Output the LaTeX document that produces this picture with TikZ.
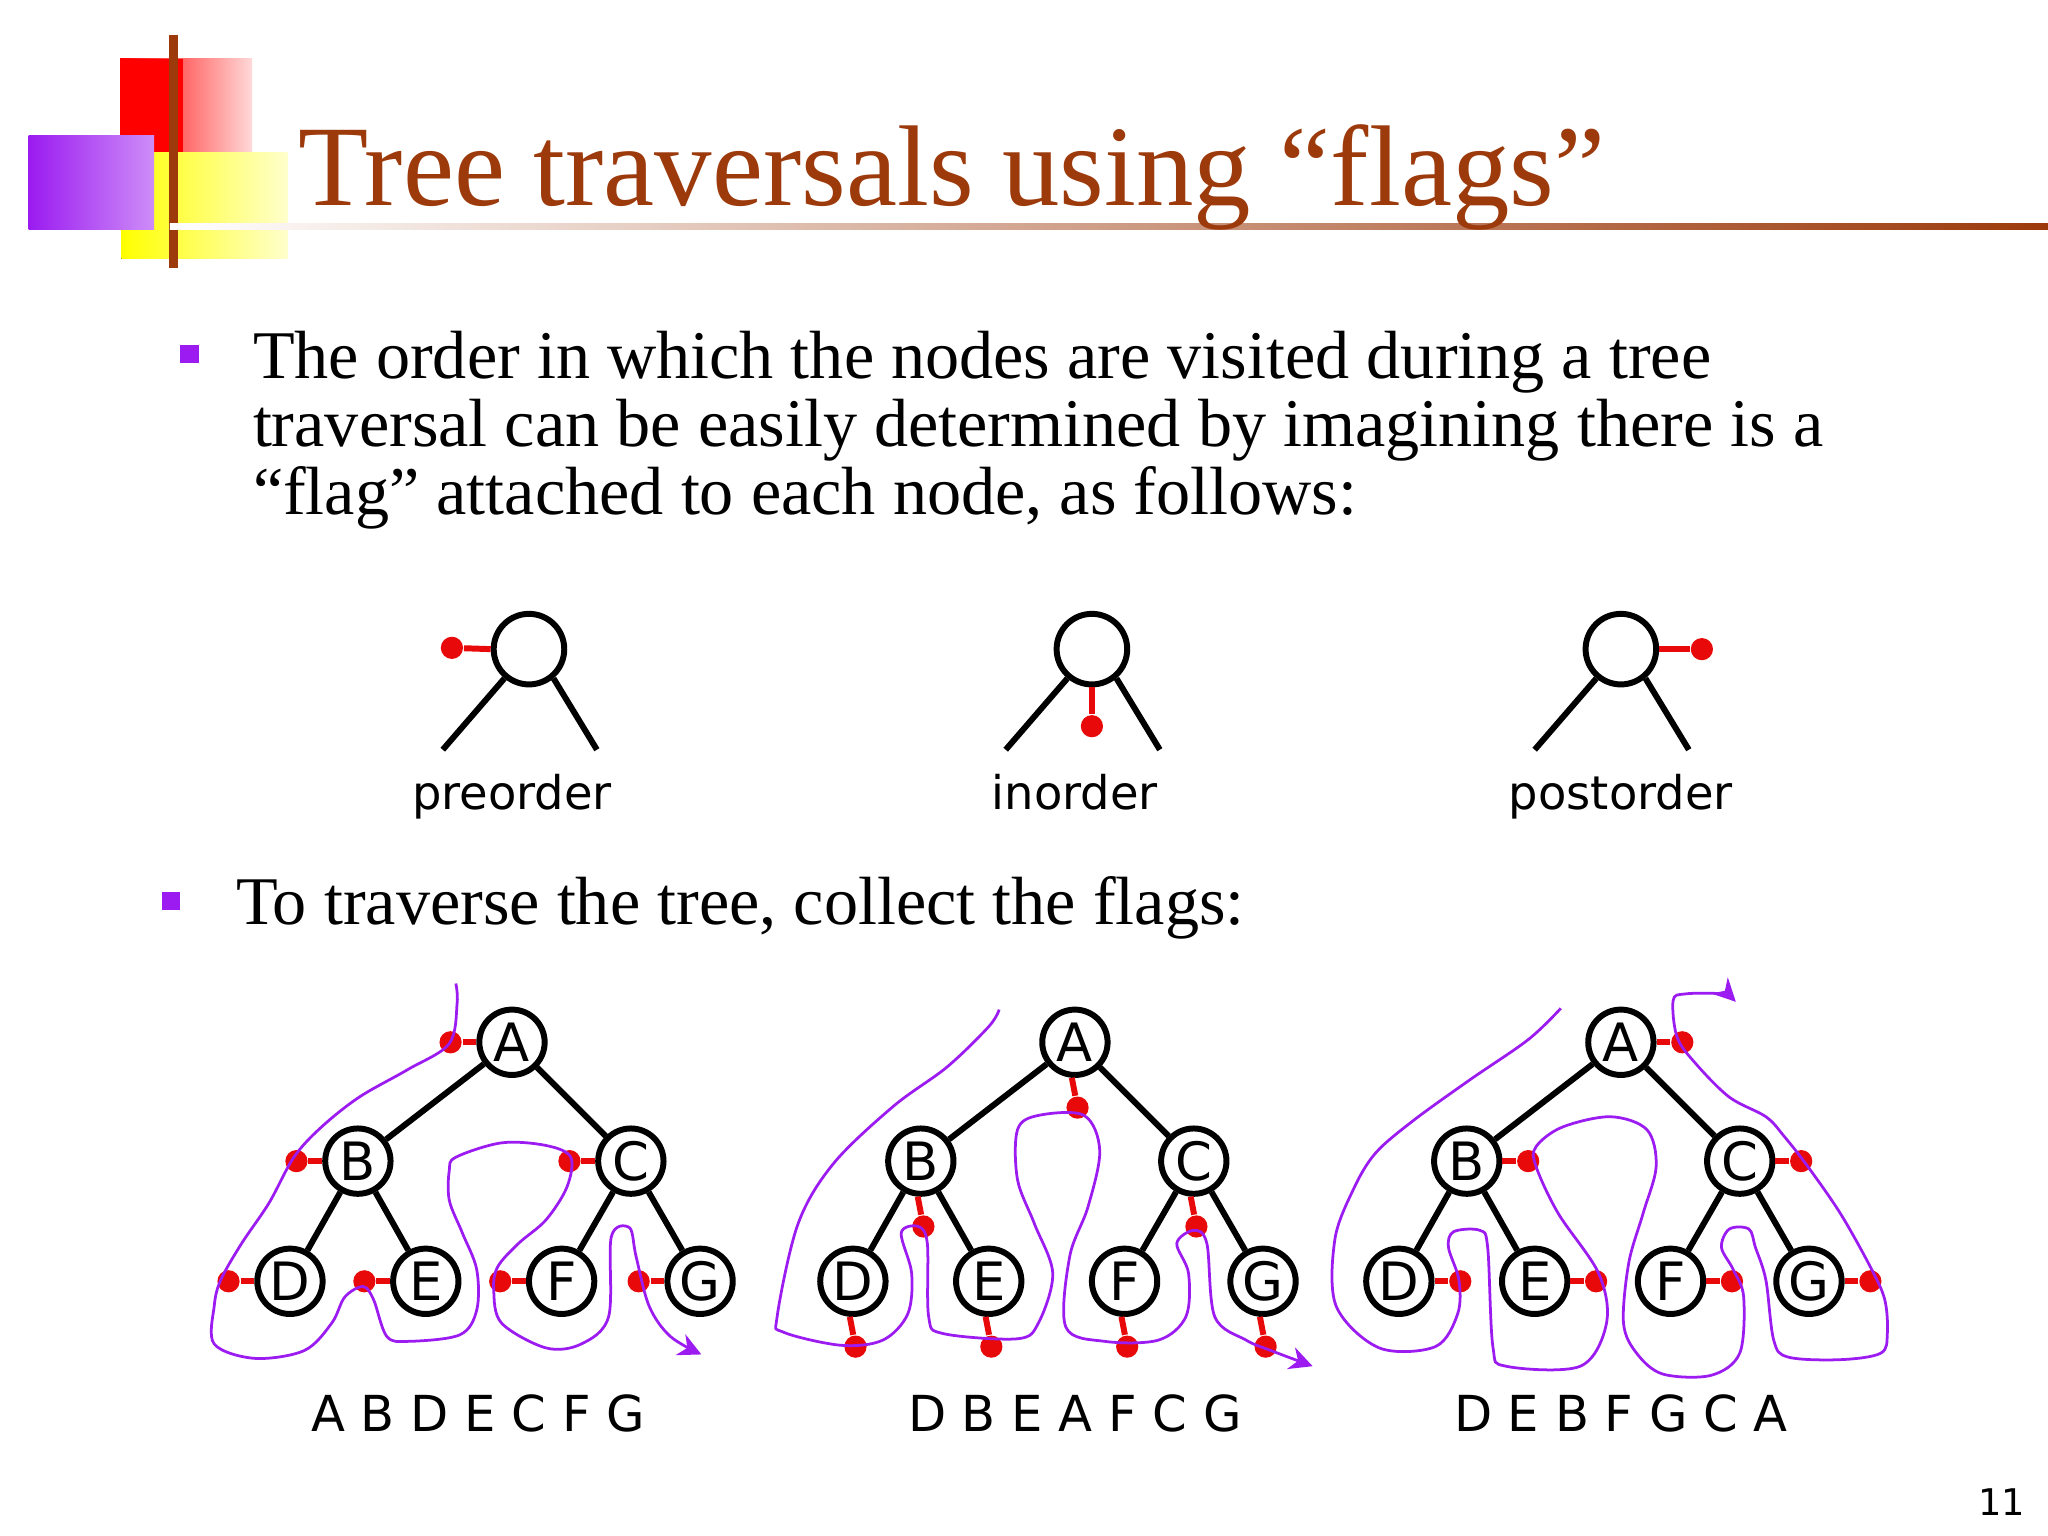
\documentclass[tikz,border=0pt]{standalone}
\usepackage{fontspec}
\setmainfont{Liberation Serif}
\newfontfamily\lab{DejaVu Sans}
\usetikzlibrary{arrows.meta}
\definecolor{ttl}{HTML}{9C3A0C}
\definecolor{flagred}{HTML}{E80A0A}
\definecolor{pur}{HTML}{9B1BF0}
\begin{document}
\begin{tikzpicture}[x=0.01cm,y=-0.01cm,
  tn/.style={circle,draw,line width=1.3pt,minimum size=0.5cm,inner sep=0pt,font=\lab\fontsize{11.5}{11.5}\selectfont},
  edge/.style={line width=1.3pt},
  flag/.style={flagred,line width=1.3pt},
  dot/.style={circle,fill=flagred,inner sep=0pt,minimum size=0.17cm},
  walk/.style={pur,line width=0.6pt,-{Stealth[length=5pt,width=5pt]}},
  body/.style={anchor=base west,inner sep=0pt,font=\fontsize{14.85}{14.85}\selectfont},
  lbl/.style={anchor=base,inner sep=0pt,font=\lab\fontsize{10.1}{10.1}\selectfont},
  res/.style={anchor=base,inner sep=0pt,font=\lab\fontsize{10.8}{10.8}\selectfont}]
\useasboundingbox (0,0) rectangle (1568,1176);
% decoration
\fill[left color=red,right color=red!15] (92,45) rectangle (193,117);
\fill[red] (92,45) rectangle (140,117);
\fill[left color=yellow,right color=yellow!20] (93,117) rectangle (220,198);
\fill[left color=pur,right color=pur!50] (22,104) rectangle (118,176);
\draw[ttl,line width=2pt] (133,27) -- (133,205);
\shade[left color=white,right color=ttl] (130,171) rectangle (1568,176);
\node[anchor=base west,inner sep=0pt,text=ttl,font=\fontsize{25}{25}\selectfont] (title) at (228,157) {Tree traversals using “flags”};
% bullets
\fill[pur] (138,264) rectangle (152,278);
\node[body] (t1) at (193,290) {The order in which the nodes are visited during a tree};
\node[body] (t2) at (193,342) {traversal can be easily determined by imagining there is a};
\node[body] (t3) at (193,394) {“flag” attached to each node, as follows:};
\fill[pur] (124,683) rectangle (138,697);
\node[body] (t4) at (180,708) {To traverse the tree, collect the flags:};
% small diagrams
\foreach \nm/\x in {p/405,i/836,q/1241}{
  \node[circle,draw,line width=1.3pt,minimum size=0.54cm,inner sep=0pt] (\nm) at (\x,497) {};
  \coordinate (\nm l) at (\x-66,574);
  \coordinate (\nm r) at (\x+52,574);
  \draw[edge] (\nm.-130) -- (\nm l);
  \draw[edge] (\nm.-50) -- (\nm r);
}
\node[dot] (pd) at (346,496) {}; \draw[flag] (pd) -- (p.west);
\node[dot] (id) at (836,556) {}; \draw[flag] (id) -- (i.south);
\node[dot] (qd) at (1303,497) {}; \draw[flag] (qd) -- (q.east);
\node[lbl] (l1) at (392,620) {preorder};
\node[lbl] (l2) at (823,620) {inorder};
\node[lbl] (l3) at (1241,620) {postorder};
% trees
\foreach \t/\dx in {a/0,b/431,c/849}{
  \node[tn] (\t A) at (392+\dx,798) {A};
  \node[tn] (\t B) at (274+\dx,889) {B};
  \node[tn] (\t C) at (483+\dx,889) {C};
  \node[tn] (\t D) at (222+\dx,981) {D};
  \node[tn] (\t E) at (326+\dx,981) {E};
  \node[tn] (\t F) at (430+\dx,981) {F};
  \node[tn] (\t G) at (536+\dx,981) {G};
  \draw[edge] (\t A) -- (\t B); \draw[edge] (\t A) -- (\t C);
  \draw[edge] (\t B) -- (\t D); \draw[edge] (\t B) -- (\t E);
  \draw[edge] (\t C) -- (\t F); \draw[edge] (\t C) -- (\t G);
}
% flags
\foreach \n in {A,B,C,D,E,F,G}{
  \node[dot] (af\n) at ([xshift=-0.47cm]a\n.center) {};
  \draw[flag] (af\n) -- (a\n.west);
  \node[dot] (bf\n) at ([yshift=-0.5cm,xshift=0.02cm]b\n.center) {};
  \draw[flag] (bf\n) -- (b\n.-95);
  \node[dot] (cf\n) at ([xshift=0.47cm]c\n.center) {};
  \draw[flag] (cf\n) -- (c\n.east);
}
% walks
\draw[walk] plot[smooth,tension=0.55] coordinates {(349,753) (350,768) (344,799) (312,819) (275,840) (246,863) (225,886) (206,921) (185,952) (169,980) (164,1000) (164,1029) (195,1040) (233,1034) (254,1013) (264,993) (278,985) (286,995) (296,1023) (312,1027) (352,1022) (365,1003) (365,972) (354,944) (344,919) (344,896) (349,886) (384,875) (418,877) (437,886) (434,909) (418,934) (397,952) (381,970) (378,988) (384,1013) (418,1032) (445,1029) (466,1008) (468,947) (482,940) (487,962) (497,1000) (513,1023) (537,1037)};
\draw[walk] plot[smooth,tension=0.55] coordinates {(765,773) (757,786) (725,817) (684,847) (638,891) (611,937) (595,1008) (600,1020) (644,1030) (676,1026) (695,1006) (698,975) (690,944) (703,939) (710,952) (711,1008) (722,1021) (779,1025) (795,1013) (806,975) (792,937) (779,903) (779,865) (795,854) (830,854) (842,881) (833,924) (819,962) (816,1016) (846,1027) (887,1026) (908,1008) (910,975) (901,952) (914,942) (924,952) (930,1008) (954,1026) (973,1034) (1005,1046)};
\draw[walk] plot[smooth,tension=0.55] coordinates {(1195,772) (1170,796) (1125,827) (1082,858) (1053,883) (1036,911) (1022,949) (1023,1000) (1056,1032) (1099,1031) (1116,1006) (1117,980) (1109,955) (1113,943) (1133,942) (1139,955) (1143,1031) (1153,1046) (1210,1046) (1230,1013) (1224,975) (1193,929) (1176,893) (1176,878) (1196,863) (1233,855) (1261,865) (1268,893) (1258,929) (1247,967) (1243,1013) (1253,1036) (1273,1052) (1310,1053) (1332,1036) (1335,993) (1327,972) (1318,955) (1324,941) (1339,941) (1344,955) (1352,980) (1358,1026) (1369,1039) (1409,1041) (1440,1036) (1445,1021) (1443,995) (1432,970) (1409,929) (1384,893) (1366,870) (1352,855) (1324,840) (1298,814) (1284,794) (1281,766) (1290,761) (1318,761) (1329,767)};
% results
\node[res] (r1) at (366,1096) {A B D E C F G};
\node[res] (r2) at (823,1096) {D B E A F C G};
\node[res] (r3) at (1241,1096) {D E B F G C A};
\node[anchor=base east,inner sep=0pt,font=\lab\fontsize{8}{8}\selectfont] (pg) at (1551,1160) {11};
\end{tikzpicture}
\end{document}
